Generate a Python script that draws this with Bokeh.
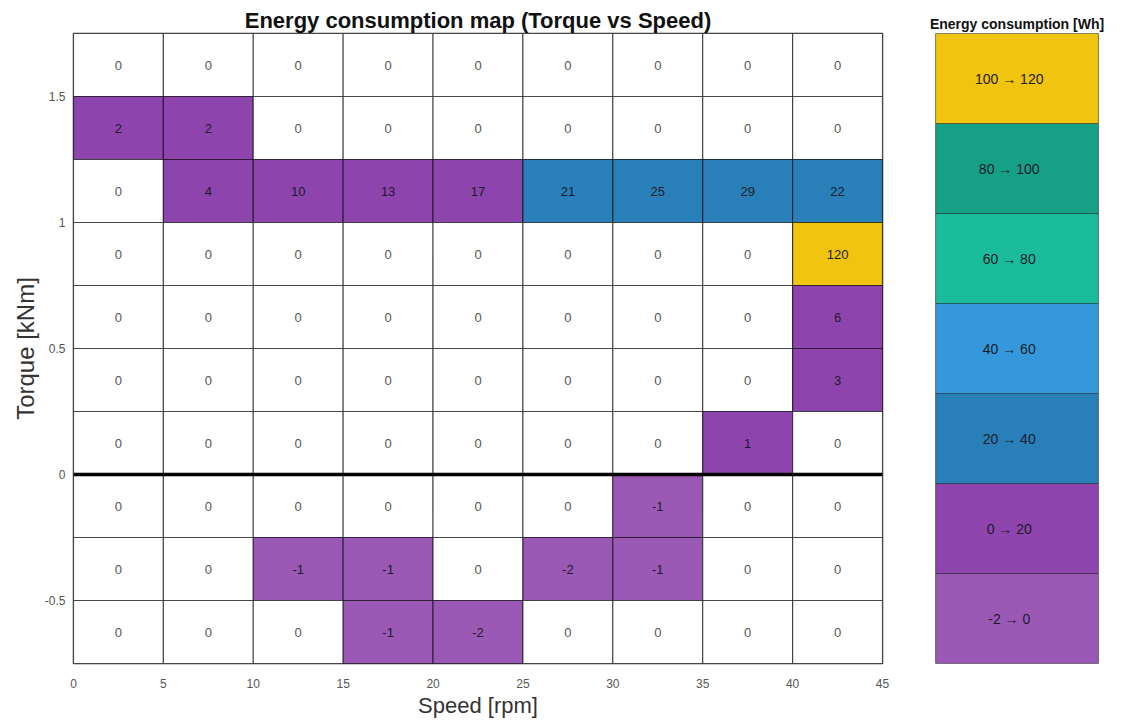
from bokeh.plotting import figure
from bokeh.models import Range1d, FixedTicker, CustomJSTickFormatter, Span, ColumnDataSource
from bokeh.layouts import row
from bokeh.embed import file_html
from bokeh.resources import INLINE

# Speed bins (lower edges, rpm) and torque bins (lower edges, kNm, top row first)
speed_bins = [0, 5, 10, 15, 20, 25, 30, 35, 40]
speed_step = 5
torque_bins = [1.5, 1.25, 1.0, 0.75, 0.5, 0.25, 0.0, -0.25, -0.5, -0.75]
torque_step = 0.25

# Energy consumed in each (torque, speed) bin, Wh — one list per torque row
energy_wh = [
    [0, 0, 0, 0, 0, 0, 0, 0, 0],
    [2, 2, 0, 0, 0, 0, 0, 0, 0],
    [0, 4, 10, 13, 17, 21, 25, 29, 22],
    [0, 0, 0, 0, 0, 0, 0, 0, 120],
    [0, 0, 0, 0, 0, 0, 0, 0, 6],
    [0, 0, 0, 0, 0, 0, 0, 0, 3],
    [0, 0, 0, 0, 0, 0, 0, 1, 0],
    [0, 0, 0, 0, 0, 0, -1, 0, 0],
    [0, 0, -1, -1, 0, -2, -1, 0, 0],
    [0, 0, 0, -1, -2, 0, 0, 0, 0],
]

# Colour classes (bottom to top in the key)
band_low = [-2, 0, 20, 40, 60, 80, 100]
band_high = [0, 20, 40, 60, 80, 100, 120]
band_colors = ["#9b59b6", "#8e44ad", "#2980b9", "#3498db", "#1abc9c", "#16a085", "#f1c40f"]

x_ticks = [0, 5, 10, 15, 20, 25, 30, 35, 40, 45]
y_ticks = [-0.5, 0, 0.5, 1, 1.5]

FONT = "Liberation Sans"


def class_color(v):
    if v == 0:
        return "#ffffff"
    if v < 0:
        return band_colors[0]
    for lo, hi, c in zip(band_low[1:], band_high[1:], band_colors[1:]):
        if lo < v <= hi:
            return c
    return band_colors[-1]


cells = dict(left=[], right=[], bottom=[], top=[], xc=[], yc=[], val=[], fill=[], tcol=[])
for t, vals in zip(torque_bins, energy_wh):
    for s, v in zip(speed_bins, vals):
        cells["left"].append(s)
        cells["right"].append(s + speed_step)
        cells["bottom"].append(t)
        cells["top"].append(t + torque_step)
        cells["xc"].append(s + speed_step / 2)
        cells["yc"].append(t + torque_step / 2)
        cells["val"].append(str(v))
        cells["fill"].append(class_color(v))
        cells["tcol"].append("#555555" if v == 0 else "#1a1a2a")
src = ColumnDataSource(cells)

p = figure(
    width=900, height=727,
    x_range=Range1d(speed_bins[0], speed_bins[-1] + speed_step),
    y_range=Range1d(torque_bins[-1], torque_bins[0] + torque_step),
    output_backend="svg", toolbar_location=None,
    min_border_left=73, min_border_right=18, min_border_top=33, min_border_bottom=64,
    title="Energy consumption map (Torque vs Speed)",
)
p.title.align = "center"
p.title.text_font = FONT
p.title.text_font_size = "22px"
p.title.text_font_style = "bold"
p.title.text_color = "#111111"
p.title.standoff = 2

p.quad(left="left", right="right", bottom="bottom", top="top", source=src,
       fill_color="fill", line_color="#000000", line_alpha=0.6, line_width=1.2)
p.text(x="xc", y="yc", text="val", source=src, text_align="center",
       text_baseline="middle", text_font_size="13px", text_color="tcol",
       text_font={"value": FONT})

p.add_layout(Span(location=0, dimension="width", line_color="#000000", line_width=3.5))

p.grid.visible = False
p.outline_line_color = "#333333"
p.outline_line_width = 1.5
p.background_fill_color = "#ffffff"

for ax in (p.xaxis[0], p.yaxis[0]):
    ax.axis_line_color = None
    ax.major_tick_line_color = None
    ax.minor_tick_line_color = None
    ax.major_label_text_font = FONT
    ax.major_label_text_font_size = "12px"
    ax.major_label_text_color = "#555555"
    ax.axis_label_text_font = FONT
    ax.axis_label_text_font_style = "normal"
    ax.axis_label_text_color = "#333333"

p.xaxis.ticker = FixedTicker(ticks=x_ticks)
p.xaxis.axis_label = "Speed [rpm]"
p.xaxis.axis_label_text_font_size = "22px"
p.xaxis.major_label_standoff = 9
p.xaxis.axis_label_standoff = 2

p.yaxis.ticker = FixedTicker(ticks=y_ticks)
p.yaxis.formatter = CustomJSTickFormatter(code="return tick.toString();")
p.yaxis.axis_label = "Torque [kNm]"
p.yaxis.axis_label_text_font_size = "24px"
p.yaxis.major_label_standoff = 2
p.yaxis.axis_label_standoff = 3

# Colour key
key = dict(
    left=[0] * len(band_low), right=[1] * len(band_low),
    bottom=list(range(len(band_low))), top=[i + 1 for i in range(len(band_low))],
    yc=[i + 0.5 for i in range(len(band_low))],
    label=[f"{lo}   \u2192   {hi}" for lo, hi in zip(band_low, band_high)],
    fill=band_colors,
)
ksrc = ColumnDataSource(key)

k = figure(
    width=227, height=727,
    x_range=Range1d(0, 1), y_range=Range1d(0, len(band_low)),
    output_backend="svg", toolbar_location=None,
    min_border_left=35, min_border_right=29, min_border_top=33, min_border_bottom=64,
    title="Energy consumption [Wh]",
)
k.title.align = "center"
k.title.text_font = FONT
k.title.text_font_size = "14px"
k.title.text_font_style = "bold"
k.title.text_color = "#111111"
k.title.standoff = 4
k.quad(left="left", right="right", bottom="bottom", top="top", source=ksrc,
       fill_color="fill", line_color="#000000", line_alpha=0.4, line_width=1.2)
k.text(x=0.5, y="yc", text="label", source=ksrc, text_align="center",
       text_baseline="middle", text_font_size="14px", text_color="#1a1a2a",
       text_font={"value": FONT})
k.axis.visible = False
k.grid.visible = False
k.outline_line_color = "#999999"
k.outline_line_width = 1

layout = row(p, k)
open("out.html", "w").write(file_html(layout, INLINE))
